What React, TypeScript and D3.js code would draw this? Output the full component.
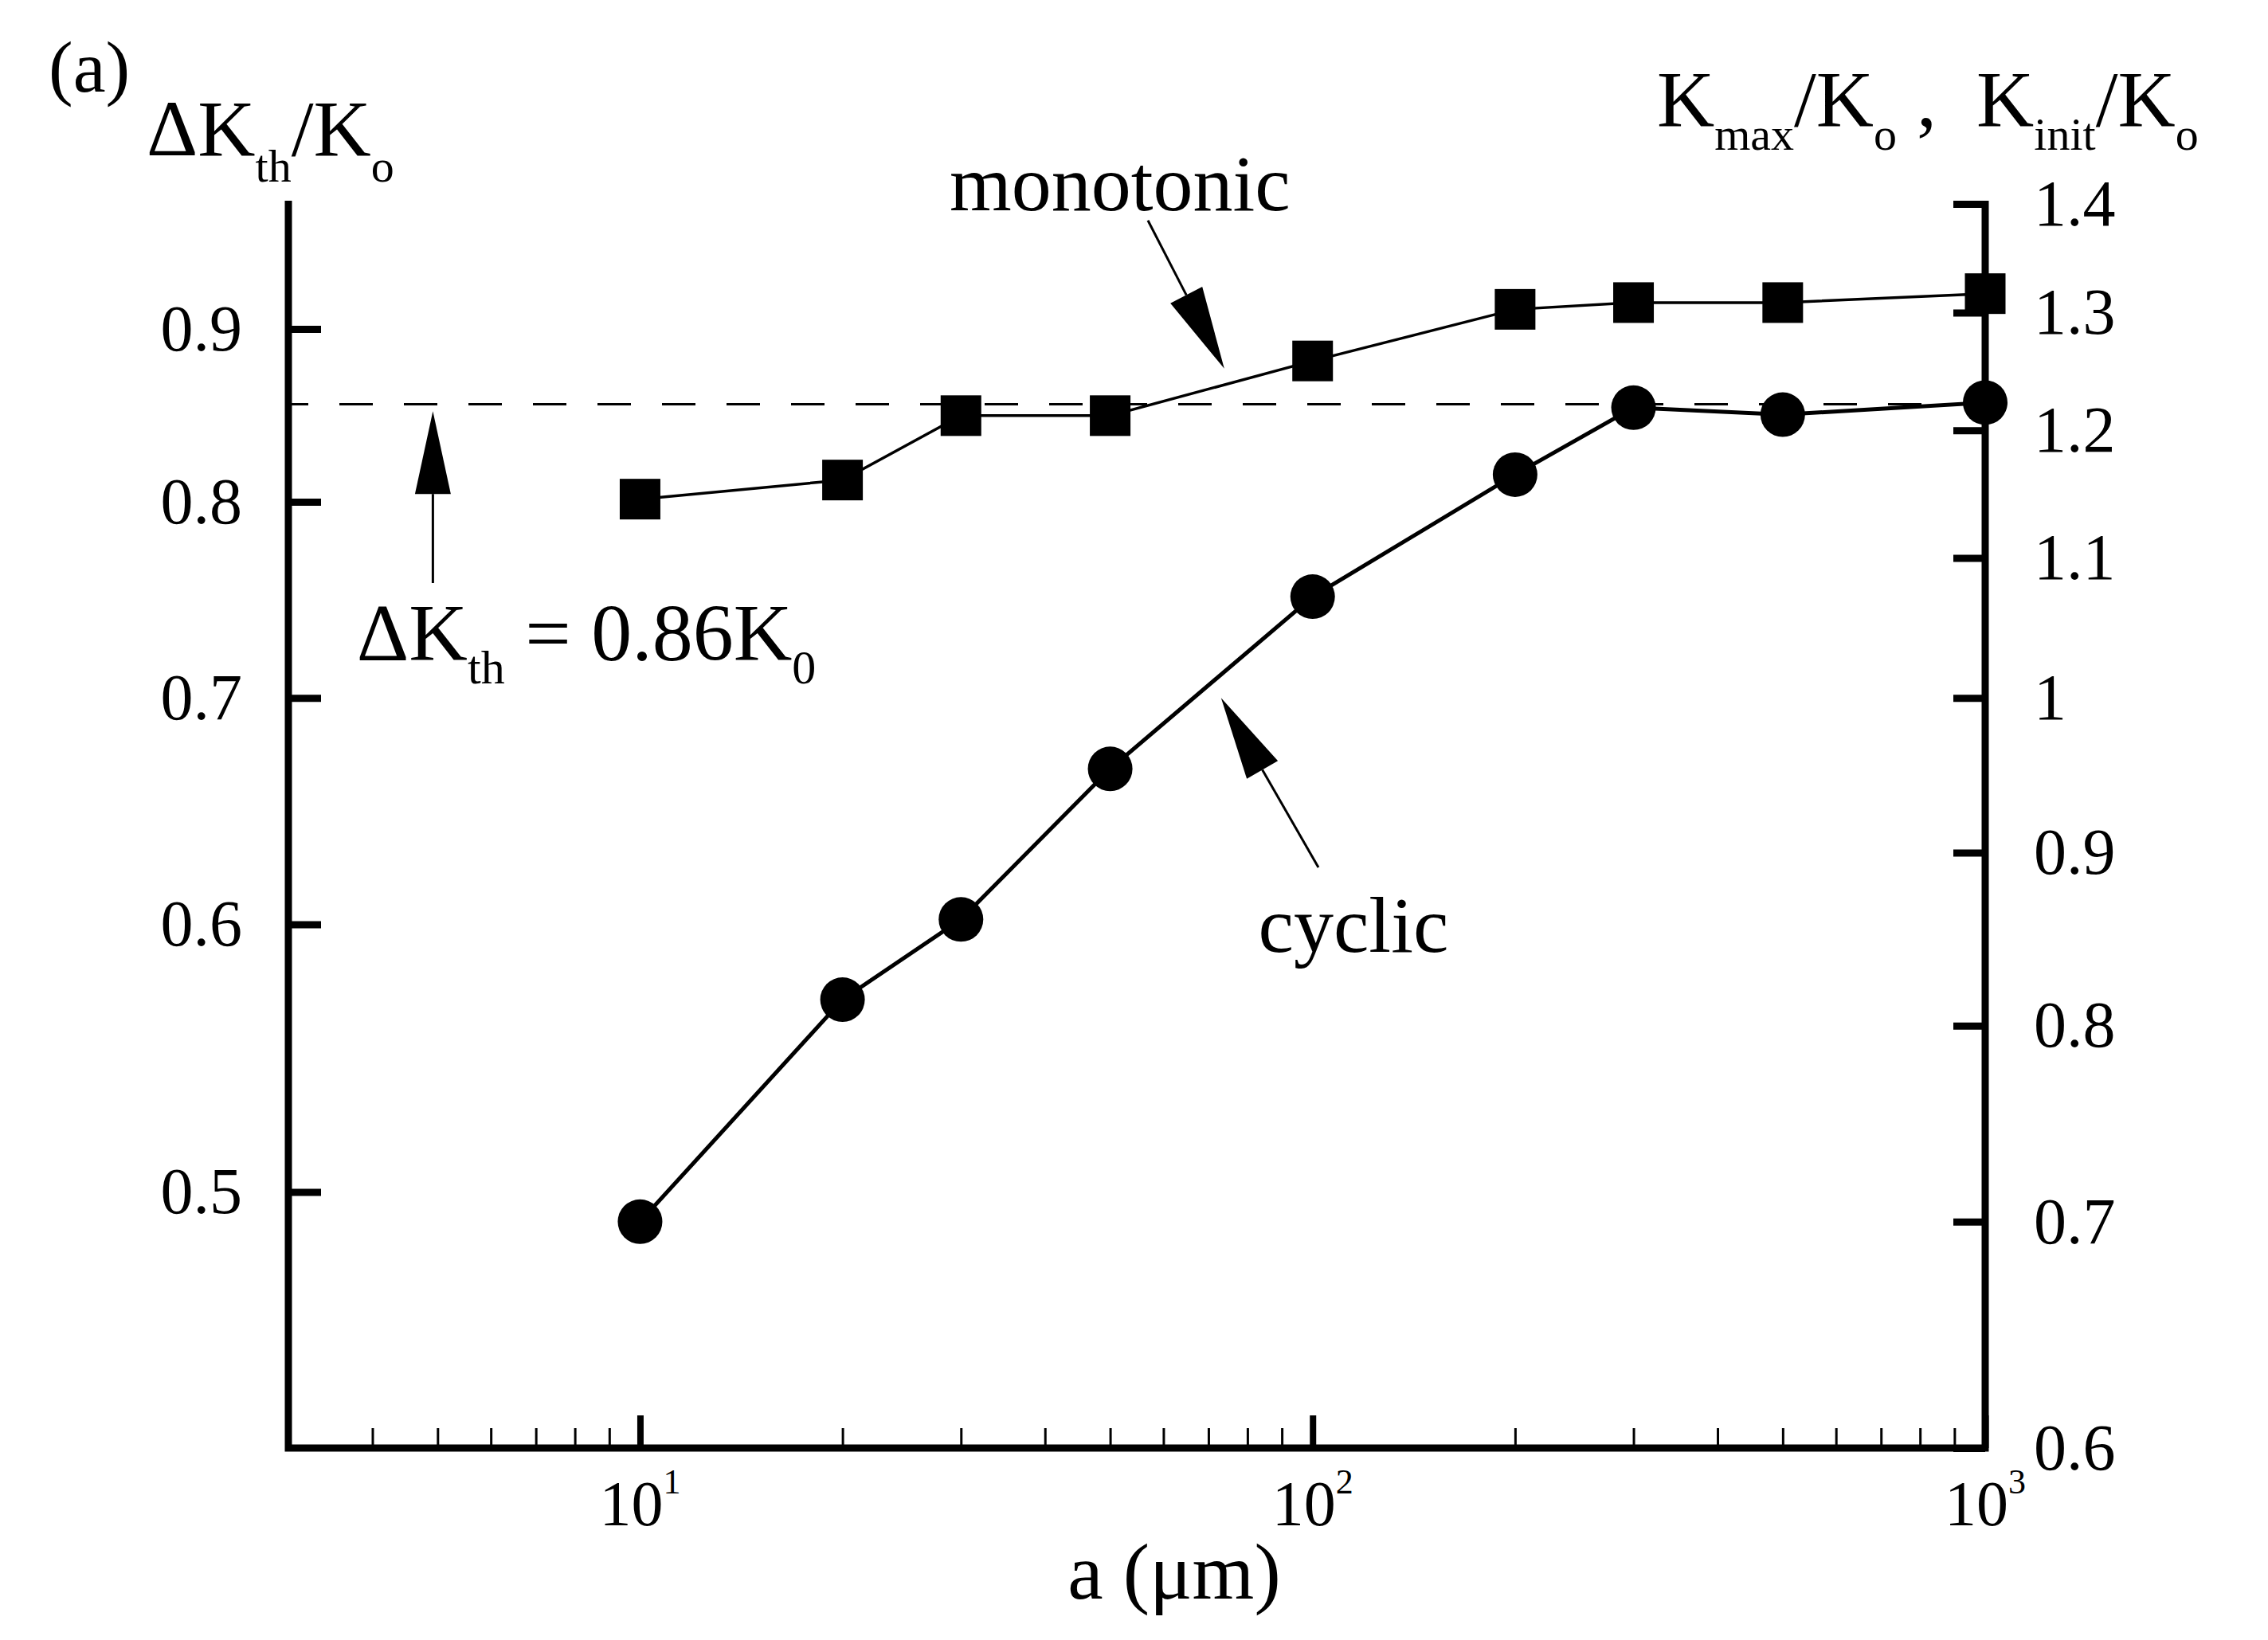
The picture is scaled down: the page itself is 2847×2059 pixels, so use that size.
import { useRef, useEffect } from 'react';
import * as d3 from 'd3';

// crack length a (um) and the two threshold curves
const crackLengths = [10, 20, 30, 50, 100, 200, 300, 500, 1000];
const cyclicValues = [0.49, 0.57, 0.602, 0.667, 0.75, 0.815, 0.853, 0.849, 0.856]; // left axis
const monotonicValues = [1.145, 1.16, 1.212, 1.212, 1.258, 1.303, 1.309, 1.309, 1.317]; // right axis
const thresholdValue = 0.855;

const leftTicks = [0.5, 0.6, 0.7, 0.8, 0.9];
const rightTicks = [0.6, 0.7, 0.8, 0.9, 1, 1.1, 1.2, 1.3, 1.4];
const xMajorTicks = [10, 100, 1000];
const xMajorExponents = ['1', '2', '3'];
const xMinorTicks = [4, 5, 6, 7, 8, 9, 20, 30, 40, 50, 60, 70, 80, 90, 200, 300, 400, 500, 600, 700, 800, 900];

const FONT = '"Liberation Serif", "Times New Roman", Times, serif';

export default function App() {
  const ref = useRef<SVGSVGElement>(null);

  useEffect(() => {
    if (!ref.current) return;
    const svg = d3.select(ref.current);
    svg.selectAll('*').remove();

    const left = 362, right = 2492, top = 256, bottom = 1818;

    const x = d3.scaleLog().domain([3, 1000]).range([left, right]);
    const yL = d3.scaleLog().domain([0.42, 0.98]).range([bottom, top]);
    const yR = d3.scaleLog().domain([0.6, 1.4]).range([bottom, top]);

    // dashed threshold line
    svg.append('line')
      .attr('x1', left).attr('x2', right)
      .attr('y1', yL(thresholdValue)).attr('y2', yL(thresholdValue))
      .attr('stroke', '#000').attr('stroke-width', 3)
      .attr('stroke-dasharray', '42 39').attr('stroke-dashoffset', 17);

    // series lines
    const monoLine = d3.line<number>().x((_, i) => x(crackLengths[i])).y(d => yR(d));
    const cycLine = d3.line<number>().x((_, i) => x(crackLengths[i])).y(d => yL(d));

    svg.append('path').datum(monotonicValues)
      .attr('d', monoLine).attr('fill', 'none').attr('stroke', '#000').attr('stroke-width', 3.5);
    svg.append('path').datum(cyclicValues)
      .attr('d', cycLine).attr('fill', 'none').attr('stroke', '#000').attr('stroke-width', 5);

    // markers
    const sq = 51;
    svg.selectAll('.sq').data(monotonicValues).join('rect')
      .attr('class', 'sq')
      .attr('x', (_, i) => x(crackLengths[i]) - sq / 2)
      .attr('y', d => yR(d) - sq / 2)
      .attr('width', sq).attr('height', sq).attr('fill', '#000');
    svg.selectAll('.ci').data(cyclicValues).join('circle')
      .attr('class', 'ci')
      .attr('cx', (_, i) => x(crackLengths[i]))
      .attr('cy', d => yL(d))
      .attr('r', 28).attr('fill', '#000');

    // frame (left, bottom, right)
    const fw = 9;
    svg.append('path')
      .attr('d', `M${left},${top - 4}V${bottom}H${right}V${top - 4}`)
      .attr('fill', 'none').attr('stroke', '#000').attr('stroke-width', fw)
      .attr('stroke-linejoin', 'miter');

    // left axis
    const gL = svg.append('g').attr('transform', `translate(${left},0)`)
      .call(d3.axisLeft(yL).tickValues(leftTicks).tickSize(-41).tickPadding(58)
        .tickFormat(d => d3.format('.1f')(d as number)));
    gL.select('.domain').remove();
    gL.attr('font-family', FONT).attr('font-size', 82);
    gL.selectAll('.tick line').attr('stroke-width', 9);

    // right axis
    const gR = svg.append('g').attr('transform', `translate(${right},0)`)
      .call(d3.axisRight(yR).tickValues(rightTicks).tickSize(-40).tickPadding(61)
        .tickFormat(d => (d === 1 ? '1' : d3.format('.1f')(d as number))));
    gR.select('.domain').remove();
    gR.attr('font-family', FONT).attr('font-size', 82);
    gR.selectAll('.tick line').attr('stroke-width', 9);

    // bottom axis: minor and major ticks
    const gMinor = svg.append('g').attr('transform', `translate(0,${bottom})`)
      .call(d3.axisBottom(x).tickValues(xMinorTicks).tickSize(-25).tickFormat(() => ''));
    gMinor.select('.domain').remove();
    gMinor.selectAll('.tick line').attr('stroke-width', 3);

    const gMajor = svg.append('g').attr('transform', `translate(0,${bottom})`)
      .call(d3.axisBottom(x).tickValues(xMajorTicks).tickSize(-41).tickFormat(() => ''));
    gMajor.select('.domain').remove();
    gMajor.selectAll('.tick line').attr('stroke-width', 8);

    const xl = svg.append('g').attr('font-family', FONT);
    xMajorTicks.forEach((v, i) => {
      const t = xl.append('text').attr('x', x(v)).attr('y', 1915).attr('text-anchor', 'middle');
      t.append('tspan').attr('font-size', 80).text('10');
      t.append('tspan').attr('font-size', 44).attr('dy', -40).text(xMajorExponents[i]);
    });

    // axis titles
    const txt = svg.append('g').attr('font-family', FONT).attr('fill', '#000');
    txt.append('text').attr('x', 1474).attr('y', 2007).attr('text-anchor', 'middle')
      .attr('font-size', 100).text('a (μm)');

    txt.append('text').attr('x', 61).attr('y', 115).attr('font-size', 92).text('(a)');

    const tl = txt.append('text').attr('x', 184).attr('y', 195).attr('font-size', 100);
    tl.append('tspan').text('ΔK');
    tl.append('tspan').attr('font-size', 58).attr('dy', 33).text('th');
    tl.append('tspan').attr('dy', -33).text('/K');
    tl.append('tspan').attr('font-size', 58).attr('dy', 33).text('o');

    const tr = txt.append('text').attr('x', 2080).attr('y', 158).attr('font-size', 100);
    tr.append('tspan').text('K');
    tr.append('tspan').attr('font-size', 58).attr('dy', 30).text('max');
    tr.append('tspan').attr('dy', -30).text('/K');
    tr.append('tspan').attr('font-size', 58).attr('dy', 30).text('o');
    tr.append('tspan').attr('dy', -30).text('\u00A0,\u00A0\u00A0K');
    tr.append('tspan').attr('font-size', 58).attr('dy', 30).text('init');
    tr.append('tspan').attr('dy', -30).text('/K');
    tr.append('tspan').attr('font-size', 58).attr('dy', 30).text('o');

    // annotations
    const arrow = (a0: number, v0: number, a1: number, v1: number) => {
      const x1 = x(a0), y1 = yL(v0), x2 = x(a1), y2 = yL(v1);
      const len = Math.hypot(x2 - x1, y2 - y1);
      const ux = (x2 - x1) / len, uy = (y2 - y1) / len;
      const hl = 104, hw = 22.5;
      const bx = x2 - ux * hl, by = y2 - uy * hl;
      svg.append('line').attr('x1', x1).attr('y1', y1).attr('x2', bx).attr('y2', by)
        .attr('stroke', '#000').attr('stroke-width', 3);
      svg.append('path')
        .attr('d', `M${x2},${y2}L${bx - uy * hw},${by + ux * hw}L${bx + uy * hw},${by - ux * hw}Z`)
        .attr('fill', '#000');
    };
    arrow(56.9, 0.969, 73.9, 0.876); // monotonic
    arrow(102, 0.6237, 73.1, 0.7); // cyclic
    arrow(4.92, 0.757, 4.92, 0.851); // threshold

    txt.append('text').attr('x', x(51.7)).attr('y', yL(0.976)).attr('text-anchor', 'middle')
      .attr('font-size', 100).text('monotonic');
    txt.append('text').attr('x', x(115)).attr('y', yL(0.589)).attr('text-anchor', 'middle')
      .attr('font-size', 100).text('cyclic');

    const th = txt.append('text').attr('x', x(3.79)).attr('y', yL(0.718)).attr('font-size', 102);
    th.append('tspan').text('ΔK');
    th.append('tspan').attr('font-size', 60).attr('dy', 29).text('th');
    th.append('tspan').attr('dy', -29).text('\u00A0=\u00A00.86K');
    th.append('tspan').attr('font-size', 60).attr('dy', 29).text('0');
  }, []);

  return (
    <svg
      ref={ref}
      width={2847}
      height={2059}
      style={{ position: 'absolute', left: 0, top: 0, background: '#fff' }}
    />
  );
}
